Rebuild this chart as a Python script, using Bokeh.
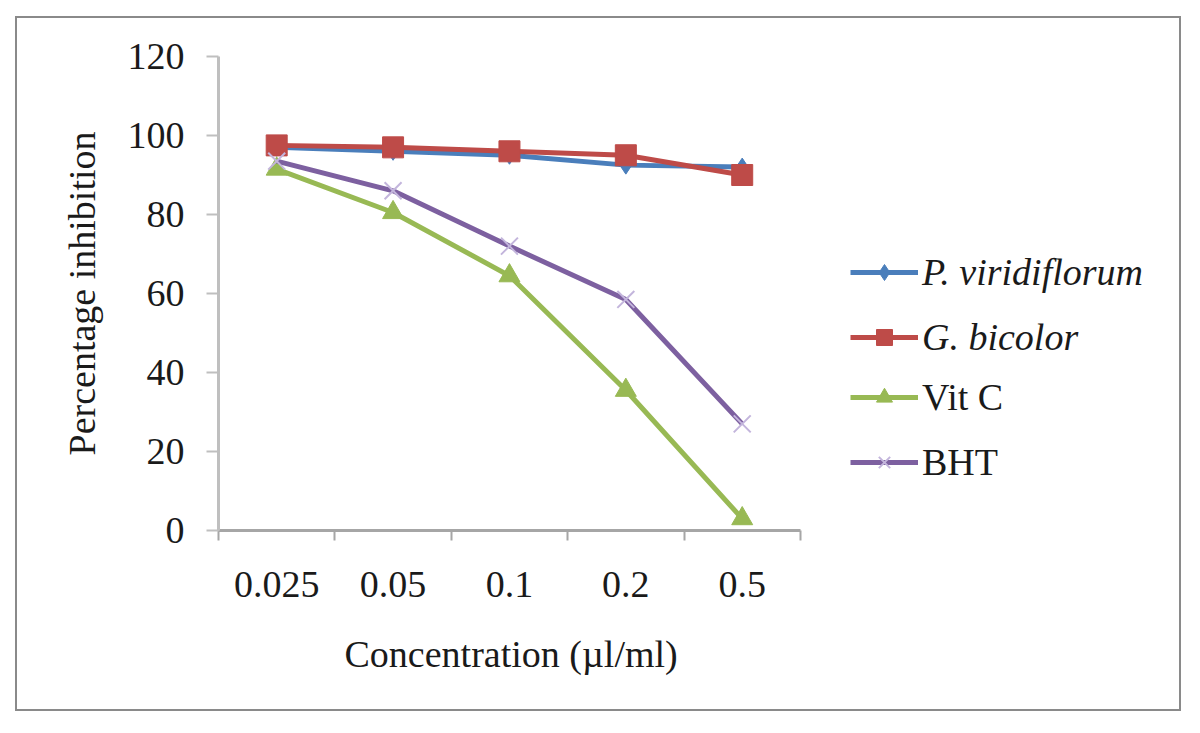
from bokeh.plotting import figure
from bokeh.models import (Range1d, LinearAxis, FixedTicker, Legend, LegendItem, Title)
from bokeh.embed import file_html
from bokeh.resources import INLINE

categories = ["0.025", "0.05", "0.1", "0.2", "0.5"]
p_viridiflorum = [97.0, 96.0, 95.0, 92.5, 92.0]
g_bicolor = [97.5, 97.0, 96.0, 95.0, 90.0]
vit_c = [91.5, 80.5, 64.5, 35.5, 3.0]
bht = [93.5, 86.0, 72.0, 58.5, 27.0]
y_ticks = [0, 20, 40, 60, 80, 100, 120]

FONT = "Liberation Serif"
FS = "38px"
AXIS_GRAY = "#a6a6a6"

n = len(categories)
xpos = [i + 0.5 for i in range(n)]          # category centres
bounds = list(range(n + 1))                 # category boundaries

# frame spans plot area + legend area; x axis drawn only over categories
p = figure(width=1166, height=695,
           x_range=Range1d(0, 8.18),
           y_range=Range1d(0, 120),
           x_axis_location=None,
           output_backend="svg", toolbar_location=None,
           min_border_left=201, min_border_right=13,
           min_border_top=38, min_border_bottom=183,
           margin=(16, 0, 0, 15),
           styles={"border": "2px solid #8a8a8a"})
p.outline_line_color = None
p.xgrid.visible = False
p.ygrid.visible = False
p.background_fill_color = "white"
p.border_fill_color = "white"

# y axis
ya = p.yaxis[0]
ya.ticker = FixedTicker(ticks=y_ticks)
ya.axis_line_color = "#bfbfbf"
ya.axis_line_width = 3
ya.major_tick_line_color = "#bfbfbf"
ya.major_tick_line_width = 2
ya.major_tick_out = 12
ya.major_tick_in = 0
ya.minor_tick_line_color = None
ya.major_label_standoff = 22
ya.major_label_text_font = FONT
ya.major_label_text_font_size = FS
ya.major_label_text_color = "#1a1a1a"
ya.axis_label = "Percentage inhibition"
ya.axis_label_text_font = FONT
ya.axis_label_text_font_size = FS
ya.axis_label_text_font_style = "normal"
ya.axis_label_text_color = "#1a1a1a"
ya.axis_label_standoff = 22

# x axis: labels at category centres, minor ticks at category boundaries
xa = LinearAxis(ticker=FixedTicker(ticks=xpos, minor_ticks=bounds),
                bounds=(0, n),
                major_label_overrides={x: c for x, c in zip(xpos, categories)},
                axis_line_color=AXIS_GRAY, axis_line_width=3,
                major_tick_line_color=None, major_tick_out=0, major_tick_in=0,
                minor_tick_line_color=AXIS_GRAY, minor_tick_line_width=2,
                minor_tick_out=10, minor_tick_in=0,
                major_label_standoff=31,
                major_label_text_font=FONT, major_label_text_font_size=FS,
                major_label_text_color="#1a1a1a")
p.add_layout(xa, "below")

# x axis title, centred under the category span
xt = Title(text="Concentration (\u00b5l/ml)", align="left", offset=126,
           text_font=FONT, text_font_size=FS, text_font_style="normal",
           text_color="#1a1a1a", standoff=62)
p.add_layout(xt, "below")

series = [
    ("P. viridiflorum", p_viridiflorum, "#4a7ebb", "diamond", 18, "#4a7ebb", 1),
    ("G. bicolor", g_bicolor, "#be4b48", "square", 21, "#be4b48", 1),
    ("Vit C", vit_c, "#98b954", "triangle", 21, "#98b954", 1),
    ("BHT", bht, "#7d60a0", "x", 24, "#c3b5dc", 2),
]

items = []
for name, vals, col, marker, size, mcol, mw in series:
    lr = p.line(xpos, vals, line_color=col, line_width=5)
    if marker == "x":
        sr = p.scatter(xpos, vals, marker=marker, size=size,
                       line_color=mcol, line_width=mw)
    else:
        sr = p.scatter(xpos, vals, marker=marker, size=size,
                       fill_color=mcol, line_color=mcol, line_width=mw)
    items.append(LegendItem(label=name, renderers=[lr, sr]))

common = dict(border_line_color=None, background_fill_color=None,
              background_fill_alpha=0, padding=0, margin=0,
              glyph_width=68, glyph_height=40, label_height=40,
              spacing=21, label_standoff=4,
              label_text_font=FONT, label_text_font_size=FS,
              label_text_color="#1a1a1a")
leg1 = Legend(items=items[:2], location=(632, 171),
              label_text_font_style="italic", **common)
leg2 = Legend(items=items[2:], location=(632, 46),
              label_text_font_style="normal", **common)
p.add_layout(leg1, "center")
p.add_layout(leg2, "center")

open("out.html", "w").write(file_html(p, INLINE))
